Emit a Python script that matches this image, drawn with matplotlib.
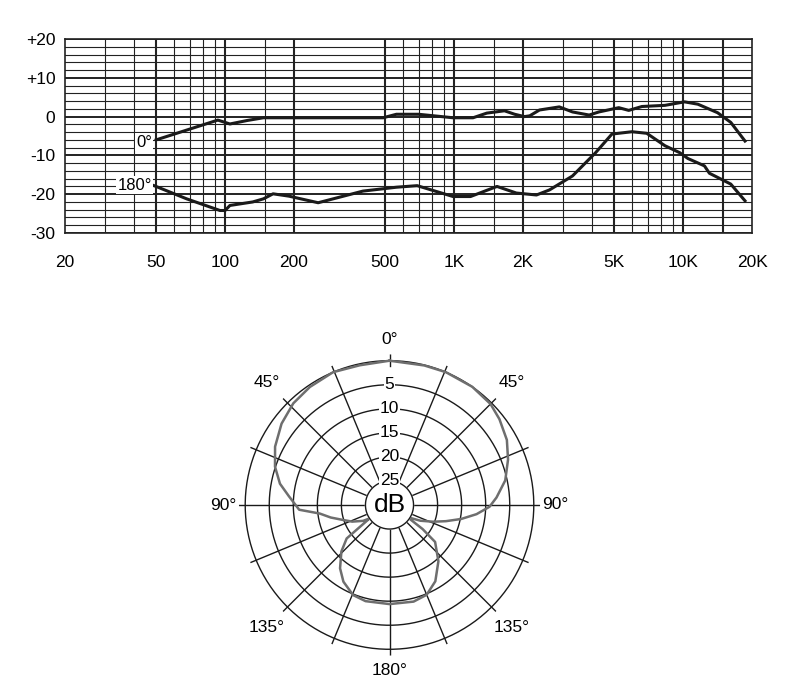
import numpy as np
import matplotlib.pyplot as plt

plt.rcParams['font.family'] = ['Liberation Sans', 'DejaVu Sans']

# --- frequency response (dB vs Hz) ---
freq_0 = [50, 93, 105, 125, 147, 300, 490, 560, 700, 990, 1210, 1390, 1660,
          1840, 2030, 2140, 2360, 2880, 3290, 3890, 4290, 5240, 5790, 6610,
          8330, 10150, 11600, 14150, 16160, 18640]
db_0 = [-6.0, -0.9, -1.9, -1.0, -0.3, -0.3, -0.3, 0.6, 0.6, -0.3, -0.3, 0.9,
        1.5, 0.6, 0.0, 0.2, 1.7, 2.5, 1.2, 0.4, 1.2, 2.3, 1.6, 2.6,
        2.9, 3.8, 3.2, 1.0, -1.5, -6.3]

freq_180 = [49, 68, 95, 100, 105, 132, 147, 162, 190, 255, 400, 560, 690,
            990, 1180, 1540, 1870, 2290, 2610, 3290, 4150, 4890, 5980, 6940,
            8330, 9670, 10500, 12400, 13030, 14630, 16160, 18640]
db_180 = [-17.8, -21.2, -24.2, -24.2, -22.9, -22.0, -21.2, -19.9, -20.5, -22.2,
          -19.2, -18.2, -17.8, -20.6, -20.6, -18.0, -19.7, -20.2, -18.9, -15.3,
          -9.3, -4.5, -3.9, -4.3, -7.5, -9.3, -10.8, -12.7, -14.6, -16.1,
          -17.4, -21.7]

x_ticks = [20, 50, 100, 200, 500, 1000, 2000, 5000, 10000, 20000]
x_labels = ['20', '50', '100', '200', '500', '1K', '2K', '5K', '10K', '20K']
y_ticks = [20, 10, 0, -10, -20, -30]
y_labels = ['+20', '+10', '0', '-10', '-20', '-30']

grid_thin = [30, 40, 60, 70, 80, 90, 150, 600, 700, 800, 900, 1500,
             3000, 4000, 6000, 7000, 8000, 9000]
grid_thick = [50, 100, 200, 500, 1000, 2000, 5000, 10000, 15000]

# --- polar pattern: angle clockwise from 0° (degrees), level (dB) ---
polar_angles = [0, 14, 23, 35, 45, 52, 61, 69, 78, 86, 91, 96, 101, 106, 111,
                117, 124, 126, 129, 139, 149, 157.5, 166, 180, 194, 202, 211,
                218, 226, 232, 236, 239, 246, 252, 258, 263, 267, 275, 281,
                288.5, 297, 307, 316.6, 326, 337, 348, 360]
polar_db = [0.0, -0.1, 0.0, 0.0, -0.3, -1.0, -2.1, -3.6, -5.4, -7.7, -9.2,
            -11.8, -14.8, -17.8, -20.3, -22.8, -25.5, -21.5, -17.8, -14.5,
            -11.5, -9.8, -9.3, -9.4, -9.4, -9.8, -11.4, -13.3, -16.1, -18.7,
            -25.0, -23.6, -21.5, -19.9, -17.5, -15.4, -11.2, -9.0, -6.8, -4.9,
            -3.3, -1.9, -0.9, -0.4, 0.0, -0.3, 0.0]
ring_labels = [5, 10, 15, 20, 25]
angle_labels = [0, 45, 90, 135, 180]

W, H = 796, 700
fig = plt.figure(figsize=(W / 100, H / 100), dpi=100)

# ---------- frequency response ----------
ax = fig.add_axes([65 / W, 1 - 233 / H, 687 / W, 194 / H])
ax.set_xscale('log')
ax.set_xlim(20, 20000)
ax.set_ylim(-30, 20)

for f in grid_thin:
    ax.axvline(f, color='#222222', lw=0.8, zorder=1)
for f in grid_thick:
    ax.axvline(f, color='#222222', lw=1.5, zorder=1)
for d in range(-30, 21, 2):
    ax.axhline(d, color='#222222', lw=1.4 if d % 10 == 0 else 0.8, zorder=1)

ax.plot(freq_0, db_0, color='#1a1a1a', lw=2.2, zorder=3)
ax.plot(freq_180, db_180, color='#1a1a1a', lw=2.2, zorder=3)

lbl_box = dict(facecolor='white', edgecolor='none', pad=1.0)
ax.text(48, -6.6, '0°', ha='right', va='center', fontsize=12, bbox=lbl_box, zorder=4)
ax.text(48, -17.7, '180°', ha='right', va='center', fontsize=12, bbox=lbl_box, zorder=4)

ax.set_xticks(x_ticks)
ax.set_xticklabels(x_labels)
ax.set_yticks(y_ticks)
ax.set_yticklabels(y_labels)
ax.minorticks_off()
ax.tick_params(axis='x', length=0, labelsize=12.5, pad=16)
ax.tick_params(axis='y', length=0, labelsize=12.5, pad=7)
for s in ax.spines.values():
    s.set_color('#222222')
    s.set_linewidth(1.2)

# ---------- polar pattern ----------
r_max = 31.3
rad_px = 144.3 / 30 * r_max
cx, cy = 389.5, 505
pax = fig.add_axes([(cx - rad_px) / W, 1 - (cy + rad_px) / H,
                    2 * rad_px / W, 2 * rad_px / H], projection='polar')
pax.set_theta_zero_location('N')
pax.set_theta_direction(-1)
pax.set_ylim(0, r_max)
pax.axis('off')

th = np.linspace(0, 2 * np.pi, 400)
for r in [10, 15, 20, 25, 30]:
    pax.plot(th, np.full_like(th, r), color='#1a1a1a', lw=1.0, zorder=1)
for a in np.arange(22.5, 360, 22.5):
    pax.plot([np.radians(a)] * 2, [5, r_max], color='#1a1a1a', lw=1.0, zorder=1)
pax.plot([0, 0], [28.8, r_max], color='#1a1a1a', lw=1.0, zorder=1)

theta = np.radians(polar_angles)
radius = 30 + np.array(polar_db)
pax.plot(theta, radius, color='#6e6e6e', lw=1.8, zorder=2)

# inner "dB" circle
pax.fill(th, np.full_like(th, 5), color='white', zorder=3)
pax.plot(th, np.full_like(th, 5), color='#1a1a1a', lw=1.0, zorder=4)
pax.text(0, 0, 'dB', ha='center', va='center', fontsize=19, zorder=6)

for v in ring_labels:
    pax.text(0, 30 - v, str(v), ha='center', va='center', fontsize=12.5,
             bbox=dict(facecolor='white', edgecolor='none', pad=0.5), zorder=5)

for a in angle_labels:
    r_lab = 36.0 if a in (45, 135) else 34.5
    sides = [a] if a in (0, 180) else [a, 360 - a]
    for s in sides:
        pax.text(np.radians(s), r_lab, f'{a}°', ha='center', va='center',
                 fontsize=12.5, clip_on=False)

fig.savefig('out.png', dpi=100, facecolor='white')
